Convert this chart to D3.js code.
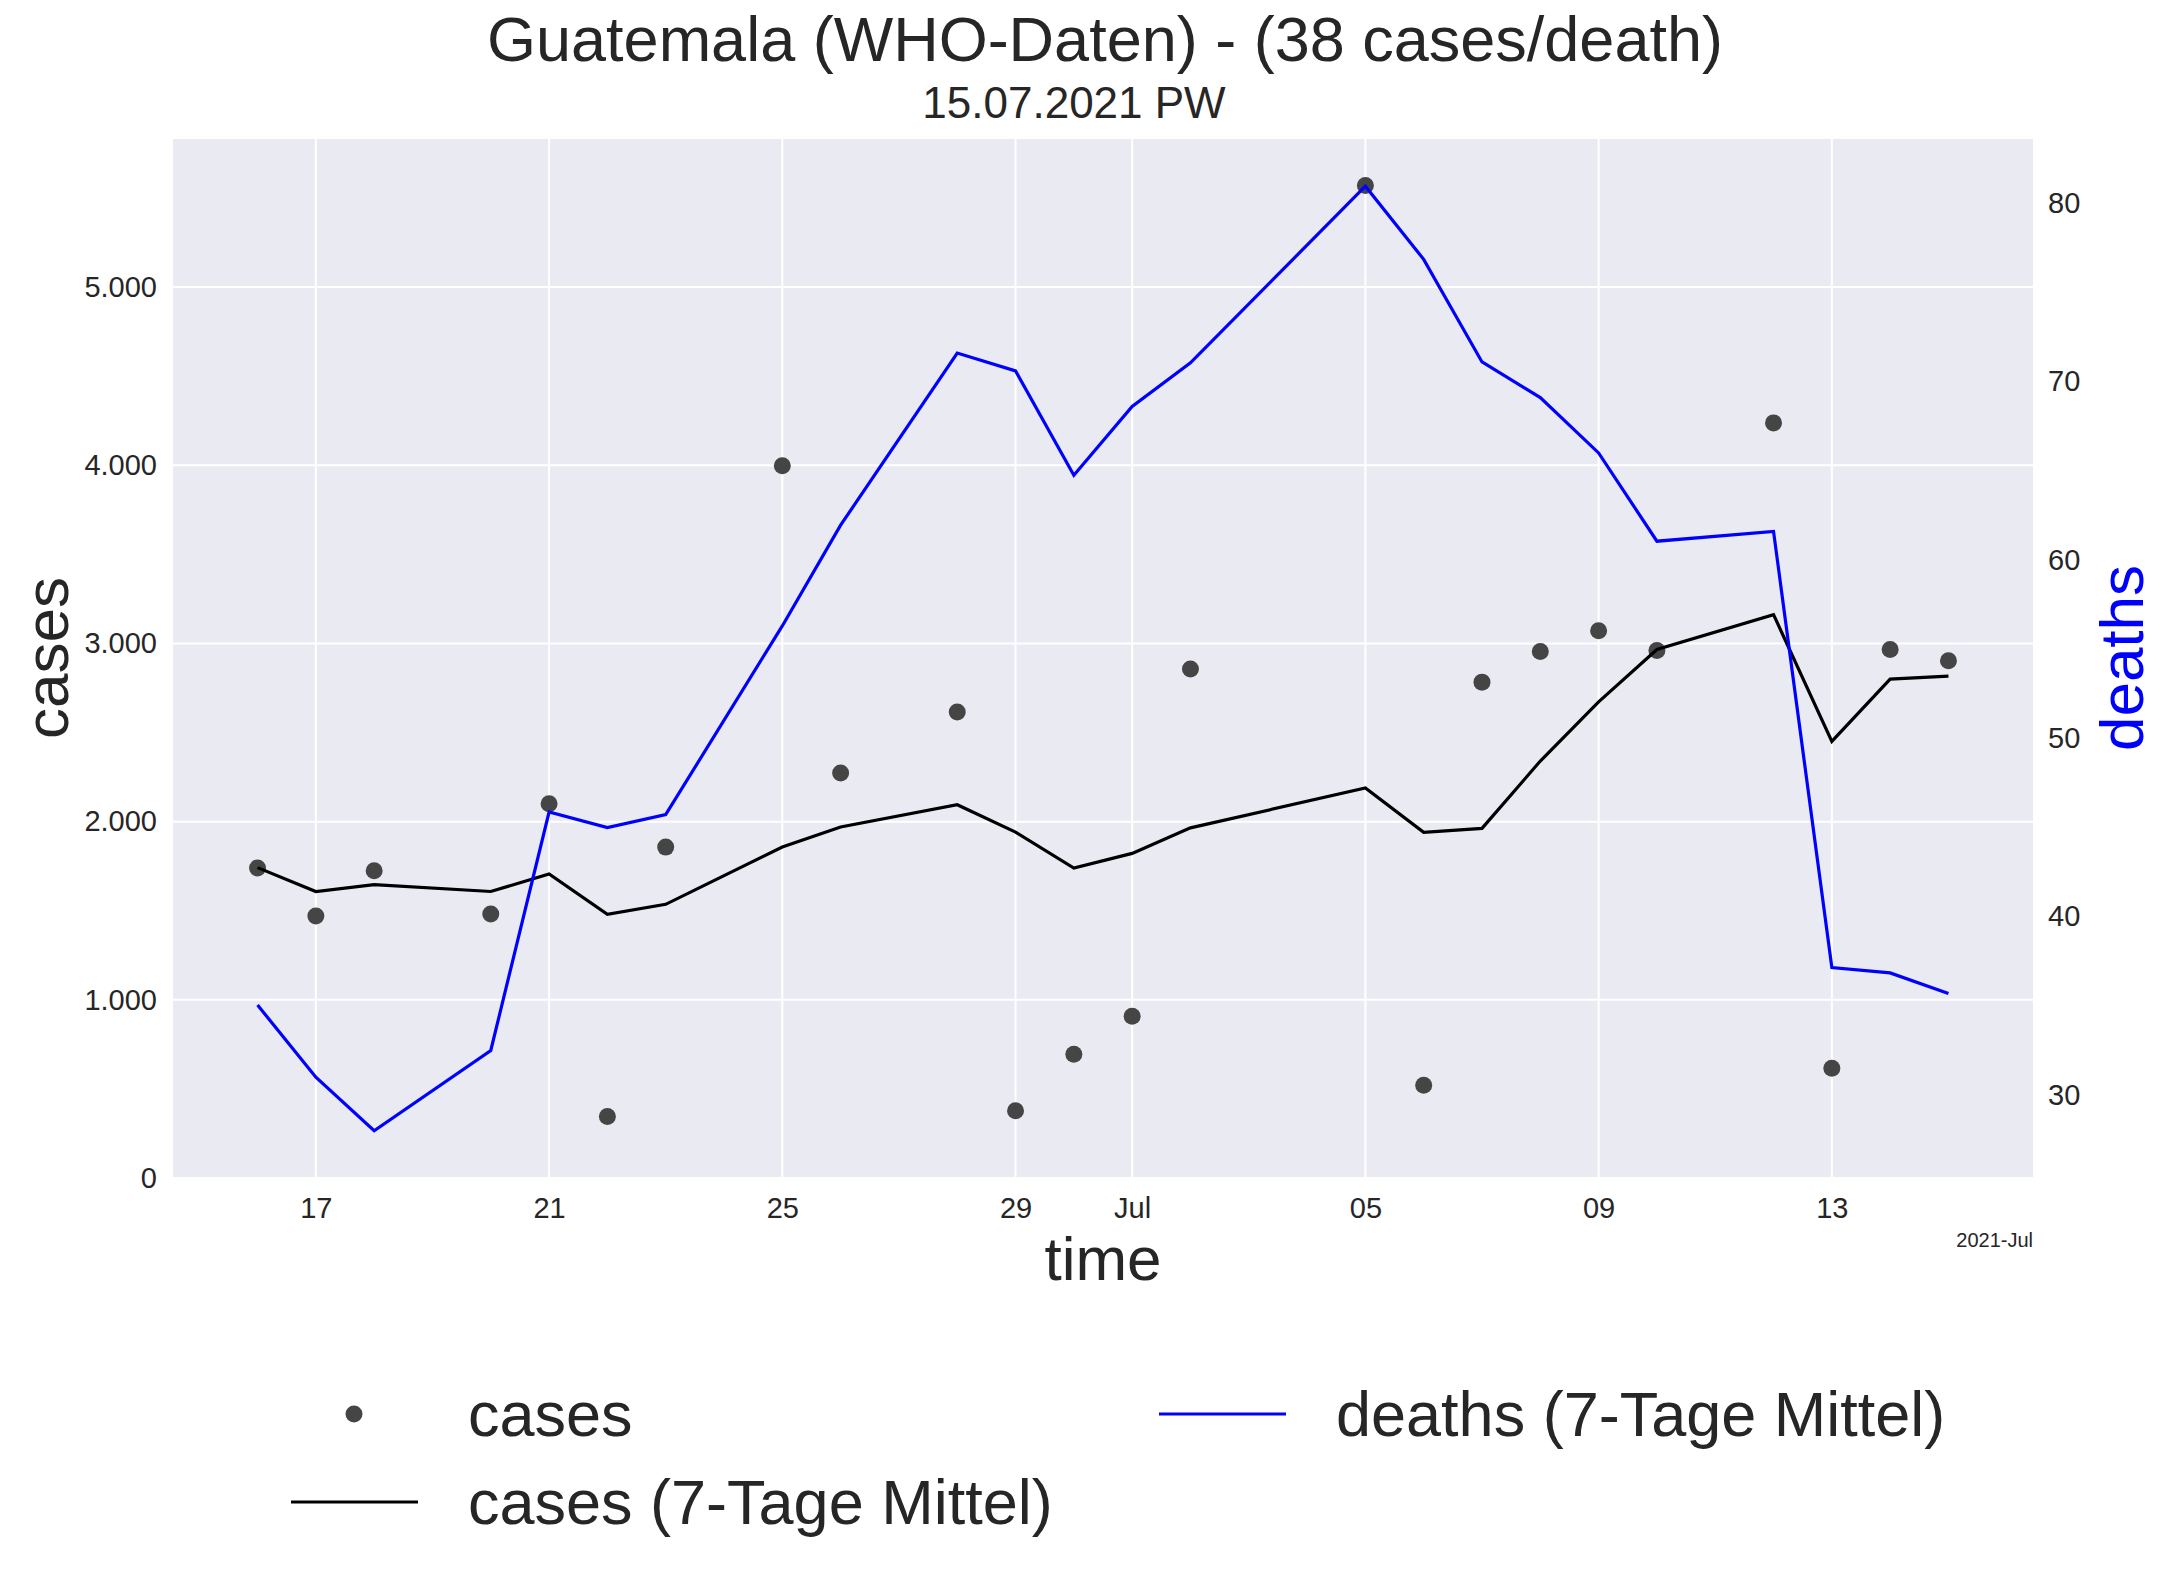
<!DOCTYPE html>
<html>
<head>
<meta charset="utf-8">
<script src="https://cdn.jsdelivr.net/npm/d3@7"></script>
<style>
body { margin: 0; background: #fff; }
text { font-family: "Liberation Sans", Arial, sans-serif; fill: #262626; }
</style>
</head>
<body>
<svg id="chart" width="2162" height="1578"></svg>
<script>
// reported days (gaps = no WHO report that day)
var dates = ["2021-06-16","2021-06-17","2021-06-18","2021-06-20","2021-06-21","2021-06-22","2021-06-23",
             "2021-06-25","2021-06-26","2021-06-28","2021-06-29","2021-06-30","2021-07-01","2021-07-02",
             "2021-07-05","2021-07-06","2021-07-07","2021-07-08","2021-07-09","2021-07-10","2021-07-12",
             "2021-07-13","2021-07-14","2021-07-15"];
var cases = [1740,1470,1725,1482,2100,345,1857,3998,2273,2616,378,694,908,2857,
             5570,521,2783,2955,3072,2960,4238,616,2966,2903];
var casesAvg = [1742,1608,1647,1608,1706,1480,1536,1858,1970,2095,1941,1739,1822,1965,
                2189,1940,1962,2340,2672,2966,3162,2450,2800,2817];
var deathsAvg = [35.05,31.0,28.0,32.5,45.87,45.0,45.72,56.3,61.95,71.6,70.6,64.75,68.6,71.05,
                 80.95,76.85,71.1,69.1,66.0,61.05,61.6,37.15,36.85,35.7];

// tick labels
var xTickDates = ["2021-06-17","2021-06-21","2021-06-25","2021-06-29","2021-07-01","2021-07-05","2021-07-09","2021-07-13"];
var xTickLabels = ["17","21","25","29","Jul","05","09","13"];
var casesTicks = [0,1000,2000,3000,4000,5000];
var deathsTicks = [30,40,50,60,70,80];

var parse = d3.utcParse("%Y-%m-%d");
var days = dates.map(parse);
var tickDays = xTickDates.map(parse);

// plot box
var pLeft = 173, pRight = 2033, pTop = 139, pBottom = 1178;
var svg = d3.select("#chart");
var de = d3.formatLocale({decimal: ",", thousands: ".", grouping: [3], currency: ["", "€"]});
var fmt = de.format(",");

// matplotlib style 5% margins
var span = days[days.length-1] - days[0];
var x = d3.scaleUtc()
    .domain([new Date(+days[0] - span*0.05), new Date(+days[days.length-1] + span*0.05)])
    .range([pLeft, pRight]);

var cMax = d3.max(cases), cMin = d3.min(cases);
var y = d3.scaleLinear().domain([0, cMax + (cMax - cMin)*0.05]).range([pBottom, pTop]);

var dMax = d3.max(deathsAvg), dMin = d3.min(deathsAvg);
var y2 = d3.scaleLinear().domain([dMin - (dMax-dMin)*0.05, dMax + (dMax-dMin)*0.05]).range([pBottom, pTop]);

// background + grid
svg.append("rect").attr("x", pLeft).attr("y", pTop).attr("width", pRight-pLeft).attr("height", pBottom-pTop)
    .attr("fill", "#eaeaf2");
svg.append("g").selectAll("line").data(tickDays).join("line")
    .attr("x1", d => x(d)).attr("x2", d => x(d)).attr("y1", pTop).attr("y2", pBottom)
    .attr("stroke", "#fff").attr("stroke-width", 2);
svg.append("g").selectAll("line").data(casesTicks).join("line")
    .attr("x1", pLeft).attr("x2", pRight).attr("y1", d => y(d)).attr("y2", d => y(d))
    .attr("stroke", "#fff").attr("stroke-width", 2);

// axes
var xAxis = svg.append("g").attr("transform", `translate(0,${pBottom})`)
    .call(d3.axisBottom(x).tickValues(tickDays).tickSize(0).tickPadding(19)
        .tickFormat((d, i) => xTickLabels[i]));
var yAxis = svg.append("g").attr("transform", `translate(${pLeft},0)`)
    .call(d3.axisLeft(y).tickValues(casesTicks).tickSize(0).tickPadding(16).tickFormat(fmt));
var y2Axis = svg.append("g").attr("transform", `translate(${pRight},0)`)
    .call(d3.axisRight(y2).tickValues(deathsTicks).tickSize(0).tickPadding(15));
[xAxis, yAxis, y2Axis].forEach(function(g) {
    g.select(".domain").remove();
    g.selectAll("text").attr("font-size", 29).attr("fill", "#262626")
        .attr("font-family", '"Liberation Sans", Arial, sans-serif');
});

// cases points
svg.append("g").selectAll("circle").data(cases).join("circle")
    .attr("cx", (d, i) => x(days[i])).attr("cy", d => y(d)).attr("r", 8.5)
    .attr("fill", "#454545");

// cases 7 day mean
var lineC = d3.line().x((d, i) => x(days[i])).y(d => y(d));
svg.append("path").datum(casesAvg).attr("d", lineC)
    .attr("fill", "none").attr("stroke", "#000").attr("stroke-width", 3.2);

// deaths 7 day mean (twin axis)
var lineD = d3.line().x((d, i) => x(days[i])).y(d => y2(d));
svg.append("path").datum(deathsAvg).attr("d", lineD)
    .attr("fill", "none").attr("stroke", "#0000ff").attr("stroke-width", 3.2);

// labels
svg.append("text").attr("x", 1105).attr("y", 61).attr("text-anchor", "middle")
    .attr("font-size", 63).text("Guatemala (WHO-Daten) - (38 cases/death)");
svg.append("text").attr("x", 1074).attr("y", 118).attr("text-anchor", "middle")
    .attr("font-size", 44).text("15.07.2021 PW");
svg.append("text").attr("x", 1103).attr("y", 1280).attr("text-anchor", "middle")
    .attr("font-size", 62).text("time");
svg.append("text").attr("x", pRight).attr("y", 1247).attr("text-anchor", "end")
    .attr("font-size", 20).text("2021-Jul");
svg.append("text").attr("transform", "translate(68,658) rotate(-90)").attr("text-anchor", "middle")
    .attr("font-size", 62).text("cases");
svg.append("text").attr("transform", "translate(2143,658) rotate(-90)").attr("text-anchor", "middle")
    .attr("font-size", 62).style("fill", "#0000ff").text("deaths");

// legend
var leg = svg.append("g");
leg.append("circle").attr("cx", 354).attr("cy", 1414).attr("r", 8.5).attr("fill", "#454545");
leg.append("text").attr("x", 468).attr("y", 1436).attr("font-size", 63).text("cases");
leg.append("line").attr("x1", 291).attr("x2", 418).attr("y1", 1502).attr("y2", 1502)
    .attr("stroke", "#000").attr("stroke-width", 3.2);
leg.append("text").attr("x", 468).attr("y", 1524).attr("font-size", 63).text("cases (7-Tage Mittel)");
leg.append("line").attr("x1", 1159).attr("x2", 1286).attr("y1", 1414).attr("y2", 1414)
    .attr("stroke", "#0000ff").attr("stroke-width", 3.2);
leg.append("text").attr("x", 1336).attr("y", 1436).attr("font-size", 63).text("deaths (7-Tage Mittel)");
</script>
</body>
</html>
